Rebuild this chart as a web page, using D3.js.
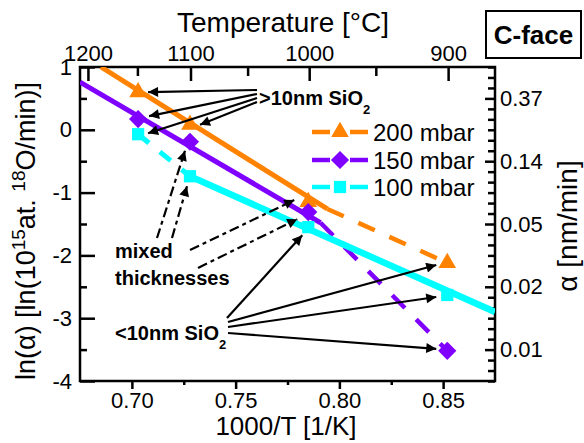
<!DOCTYPE html>
<html>
<head>
<meta charset="utf-8">
<script src="https://cdn.jsdelivr.net/npm/d3@7"></script>
<style>
  body { margin: 0; background: #fff; }
  svg { font-family: "Liberation Sans", Arial, sans-serif; }
</style>
</head>
<body>
<div id="chart"></div>
<script>
var width = 584,
    height = 443;

// data
var invT = [0.703, 0.728, 0.785, 0.852];          // 1000/T [1/K]
var topTemps = [1200, 1100, 1000, 900];            // °C labels
var topMinorTemps = [1150, 1050, 950];
var seriesNames = ["200 mbar", "150 mbar", "100 mbar"];
var lnAlpha200 = [0.60, 0.08, -1.15, -2.12];
var lnAlpha150 = [0.17, -0.19, -1.31, -3.52];
var lnAlpha100 = [-0.07, -0.74, -1.55, -2.63];
var leftTicks = [1, 0, -1, -2, -3, -4];
var rightTicks = [0.5, -0.5, -1.5, -2.5, -3.5];

// fitted / guide lines [x, ln(alpha)]
var fit200 = [[0.6851, 1.0], [0.7942, -1.26]];
var dash200 = [[0.7942, -1.26], [0.852, -2.12]];
var fit150 = [[0.675, 0.76], [0.7909, -1.48]];
var dash150 = [[0.7909, -1.48], [0.852, -3.52]];
var dash100 = [[0.703, -0.07], [0.728, -0.74]];
var fit100 = [[0.728, -0.74], [0.875, -2.90]];

var colors = ["#ff8200", "#8000ff", "#00ffff"];

var pLeft = 80, pRight = 495, pTop = 67, pBottom = 381;

var x = d3.scaleLinear().domain([0.675, 0.875]).range([pLeft, pRight]);
var y = d3.scaleLinear().domain([-4, 1]).range([pBottom, pTop]);

var svg = d3.select("#chart").append("svg")
    .attr("width", width)
    .attr("height", height);

var defs = svg.append("defs");
defs.append("clipPath").attr("id", "plotclip")
  .append("rect")
    .attr("x", pLeft).attr("y", pTop)
    .attr("width", pRight - pLeft).attr("height", pBottom - pTop);
defs.append("marker")
    .attr("id", "ah")
    .attr("viewBox", "0 0 10 10")
    .attr("refX", 10).attr("refY", 5)
    .attr("markerWidth", 12).attr("markerHeight", 10)
    .attr("markerUnits", "userSpaceOnUse")
    .attr("orient", "auto")
  .append("path")
    .attr("d", "M0,0L10,5L0,10z")
    .attr("fill", "#000");

// axes
function styleAxis(g) {
  g.select(".domain").remove();
  g.selectAll("line").attr("stroke", "#000").attr("stroke-width", 2.5);
  g.selectAll("text").attr("font-size", 22).attr("fill", "#000");
}

svg.append("g")
    .attr("transform", "translate(0," + pBottom + ")")
    .call(d3.axisBottom(x).tickValues([0.70, 0.75, 0.80, 0.85])
      .tickFormat(d3.format(".2f")).tickSize(8).tickPadding(3))
    .call(styleAxis);
svg.append("g")
    .attr("transform", "translate(0," + pBottom + ")")
    .call(d3.axisBottom(x).tickValues([0.725, 0.775, 0.825]).tickFormat("").tickSize(4))
    .call(styleAxis);

var cToX = function(c) { return 1000 / (c + 273.15); };
svg.append("g")
    .attr("transform", "translate(0," + pTop + ")")
    .call(d3.axisTop(x).tickValues(topTemps.map(cToX))
      .tickFormat(function(d) { return Math.round(1000 / d - 273.15); })
      .tickSize(-14).tickPadding(6))
    .call(styleAxis);
svg.append("g")
    .attr("transform", "translate(0," + pTop + ")")
    .call(d3.axisTop(x).tickValues(topMinorTemps.map(cToX)).tickFormat("").tickSize(-9))
    .call(styleAxis);

svg.append("g")
    .attr("transform", "translate(" + pLeft + ",0)")
    .call(d3.axisLeft(y).tickValues(leftTicks)
      .tickFormat(function(d) { return String(d); })
      .tickSize(-15).tickPadding(8))
    .call(styleAxis);
svg.append("g")
    .attr("transform", "translate(" + pLeft + ",0)")
    .call(d3.axisLeft(y).tickValues([0.5, -0.5, -1.5, -2.5, -3.5]).tickFormat("").tickSize(-7))
    .call(styleAxis);

var rightMinor = d3.range(0, 31).map(function(i) { return 1 - i / 6; })
    .filter(function(v) { return rightTicks.every(function(t) { return Math.abs(t - v) > 1e-6; }); });
svg.append("g")
    .attr("transform", "translate(" + pRight + ",0)")
    .call(d3.axisRight(y).tickValues(rightTicks)
      .tickFormat(function(v) { return d3.format(".2f")(Math.exp(v - 1.5)); })
      .tickSize(-10).tickPadding(5))
    .call(styleAxis);
svg.append("g")
    .attr("transform", "translate(" + pRight + ",0)")
    .call(d3.axisRight(y).tickValues(rightMinor).tickFormat("").tickSize(-7))
    .call(styleAxis);

// frame
svg.append("rect")
    .attr("x", pLeft).attr("y", pTop)
    .attr("width", pRight - pLeft).attr("height", pBottom - pTop)
    .attr("fill", "none").attr("stroke", "#000").attr("stroke-width", 2.5);

// lines
var line = d3.line().x(function(d) { return x(d[0]); }).y(function(d) { return y(d[1]); });
var plot = svg.append("g").attr("clip-path", "url(#plotclip)");

var lineSpecs = [
  {d: dash200, c: 0, w: 4.5, dash: "18,16"},
  {d: fit200, c: 0, w: 5, dash: null},
  {d: dash150, c: 1, w: 4.5, dash: "18,16"},
  {d: fit150, c: 1, w: 5, dash: null},
  {d: dash100, c: 2, w: 5, dash: "14,14"},
  {d: fit100, c: 2, w: 6.5, dash: null}
];
lineSpecs.forEach(function(s) {
  plot.append("path")
      .datum(s.d)
      .attr("d", line)
      .attr("fill", "none")
      .attr("stroke", colors[s.c])
      .attr("stroke-width", s.w)
      .attr("stroke-dasharray", s.dash);
});

// markers
var symbols = [
  {type: d3.symbolTriangle, size: 135, rot: 0},
  {type: d3.symbolSquare, size: 165, rot: 45},
  {type: d3.symbolSquare, size: 150, rot: 0}
];
var allSeries = [lnAlpha200, lnAlpha150, lnAlpha100];
var drawOrder = [0, 2, 1];
drawOrder.forEach(function(k) {
  plot.selectAll(null)
      .data(allSeries[k])
    .enter().append("path")
      .attr("d", d3.symbol().type(symbols[k].type).size(symbols[k].size))
      .attr("transform", function(d, i) {
        return "translate(" + x(invT[i]) + "," + y(d) + ") rotate(" + symbols[k].rot + ")";
      })
      .attr("fill", colors[k]);
});

// legend
var legendY = [132, 160, 187];
seriesNames.forEach(function(name, k) {
  var g = svg.append("g").attr("transform", "translate(0," + legendY[k] + ")");
  g.append("line").attr("x1", 312).attr("x2", 330).attr("y1", 0).attr("y2", 0)
      .attr("stroke", colors[k]).attr("stroke-width", 4.5);
  g.append("line").attr("x1", 350).attr("x2", 368).attr("y1", 0).attr("y2", 0)
      .attr("stroke", colors[k]).attr("stroke-width", 4.5);
  g.append("path")
      .attr("d", d3.symbol().type(symbols[k].type).size(symbols[k].size))
      .attr("transform", "translate(340,0) rotate(" + symbols[k].rot + ")")
      .attr("fill", colors[k]);
  g.append("text").attr("x", 373).attr("dy", "0.36em")
      .attr("font-size", 24).text(name);
});

// annotations
function pt(s, i) { return [x(invT[i]), y(allSeries[s][i])]; }

var solidArrows = [
  {from: [257, 90], s: 0, i: 0, off: [10, 0]},
  {from: [257, 94], s: 1, i: 0, off: [11, -3]},
  {from: [257, 98], s: 2, i: 0, off: [10, -1]},
  {from: [257, 102], s: 0, i: 1, off: [10, 0]},
  {from: [227, 318], s: 2, i: 2, off: [-6, 8]},
  {from: [228, 322], s: 0, i: 3, off: [-11, 2]},
  {from: [228, 327], s: 2, i: 3, off: [-11, 2]},
  {from: [228, 333], s: 1, i: 3, off: [-11, -2]}
];
var dashedArrows = [
  {from: [157, 238], s: 1, i: 1, off: [-5, 9]},
  {from: [172, 238], s: 2, i: 1, off: [-3, 10]},
  {from: [190, 250], s: 0, i: 2, off: [-14, -2]},
  {from: [198, 268], s: 2, i: 2, off: [-11, -8]}
];
function drawArrow(a, dash) {
  var p = pt(a.s, a.i);
  svg.append("line")
      .attr("x1", a.from[0]).attr("y1", a.from[1])
      .attr("x2", p[0] + a.off[0]).attr("y2", p[1] + a.off[1])
      .attr("stroke", "#000").attr("stroke-width", 2.2)
      .attr("stroke-dasharray", dash)
      .attr("marker-end", "url(#ah)");
}
solidArrows.forEach(function(a) { drawArrow(a, null); });
dashedArrows.forEach(function(a) { drawArrow(a, "10,4,4,4"); });

var t1 = svg.append("text").attr("x", 259).attr("y", 105)
    .attr("font-size", 20).attr("font-weight", "bold");
t1.append("tspan").text(">10nm SiO");
t1.append("tspan").attr("dy", 9).attr("font-size", 13).text("2");

var t2 = svg.append("text").attr("x", 115).attr("y", 340)
    .attr("font-size", 20).attr("font-weight", "bold");
t2.append("tspan").text("<10nm SiO");
t2.append("tspan").attr("dy", 9).attr("font-size", 13).text("2");

svg.append("text").attr("x", 115).attr("y", 258)
    .attr("font-size", 20).attr("font-weight", "bold").text("mixed");
svg.append("text").attr("x", 115).attr("y", 285)
    .attr("font-size", 20).attr("font-weight", "bold").text("thicknesses");

// C-face box
svg.append("rect").attr("x", 486).attr("y", 11).attr("width", 95).attr("height", 47)
    .attr("fill", "none").attr("stroke", "#000").attr("stroke-width", 2);
svg.append("text").attr("x", 533.5).attr("y", 44).attr("text-anchor", "middle")
    .attr("font-size", 26).attr("font-weight", "bold").text("C-face");

// axis titles
svg.append("text").attr("x", 283).attr("y", 32).attr("text-anchor", "middle")
    .attr("font-size", 28).text("Temperature [°C]");
svg.append("text").attr("x", 286).attr("y", 435).attr("text-anchor", "middle")
    .attr("font-size", 26).text("1000/T [1/K]");

var lt = svg.append("text")
    .attr("transform", "translate(35,231) rotate(-90)")
    .attr("text-anchor", "middle")
    .attr("font-size", 27);
lt.append("tspan").text("ln(α) [ln(10");
lt.append("tspan").attr("dy", -10).attr("font-size", 19).text("15");
lt.append("tspan").attr("dy", 10).text("at. ");
lt.append("tspan").attr("dy", -10).attr("font-size", 19).text("18");
lt.append("tspan").attr("dy", 10).text("O/min)]");

svg.append("text")
    .attr("transform", "translate(577,226) rotate(-90)")
    .attr("text-anchor", "middle")
    .attr("font-size", 28).text("α [nm/min]");
</script>
</body>
</html>
